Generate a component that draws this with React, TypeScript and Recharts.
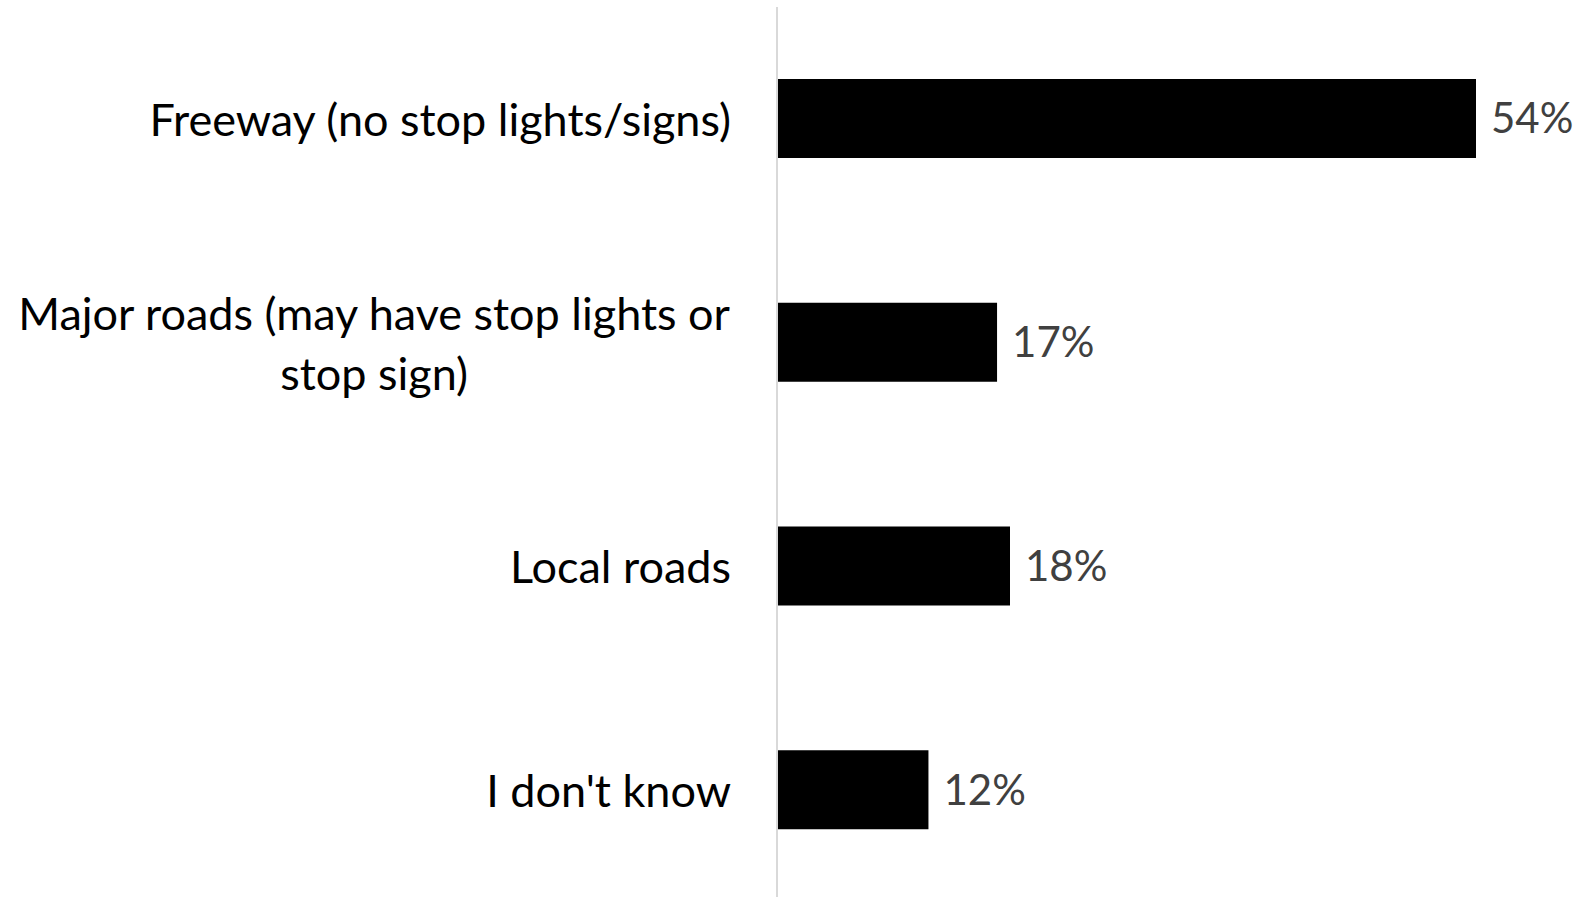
import { BarChart, Bar, XAxis, YAxis, LabelList } from 'recharts';

const categories = [
  'Freeway (no stop lights/signs)',
  'Major roads (may have stop lights or\nstop sign)',
  'Local roads',
  "I don't know",
];
const shares = [54, 17, 18, 11.7];

const FONT = 'Lato, "Open Sans", sans-serif';
const CAT_SIZE = 45;

const chartData = categories.map((name, i) => ({ name, value: shares[i] }));

const CategoryTick = ({ x, y, payload }: { x?: number; y?: number; payload?: { value: string } }) => {
  const lines = String(payload?.value ?? '').split('\n');
  if (lines.length === 1) {
    return (
      <text x={x} y={y} textAnchor="end" dominantBaseline="central" fill="#000" fontSize={CAT_SIZE} fontFamily={FONT}>
        {lines[0]}
      </text>
    );
  }
  // multi-line labels: block right-aligned, lines centred on each other
  const canvas = document.createElement('canvas');
  const ctx = canvas.getContext('2d');
  let widest = 0;
  if (ctx) {
    ctx.font = `${CAT_SIZE}px ${FONT}`;
    lines.forEach(l => { widest = Math.max(widest, ctx.measureText(l).width); });
  }
  const cx = (x ?? 0) - widest / 2;
  const lineH = 60;
  const top = (y ?? 0) - ((lines.length - 1) * lineH) / 2;
  return (
    <text textAnchor="middle" fill="#000" fontSize={CAT_SIZE} fontFamily={FONT}>
      {lines.map((l, i) => (
        <tspan key={i} x={cx} y={top + i * lineH} dominantBaseline="central">
          {l}
        </tspan>
      ))}
    </text>
  );
};

export default function App() {
  return (
    <div style={{ position: 'absolute', left: 0, top: 0 }}>
      <BarChart
        width={1582}
        height={902}
        data={chartData}
        layout="vertical"
        margin={{ top: 7, right: 106, bottom: 0, left: 0 }}
      >
        <XAxis type="number" domain={[0, 54]} hide />
        <YAxis
          type="category"
          dataKey="name"
          width={777}
          tick={<CategoryTick />}
          tickLine={false}
          tickSize={0}
          tickMargin={46}
          axisLine={{ stroke: '#d9d9d9', strokeWidth: 2 }}
          interval={0}
        />
        <Bar dataKey="value" fill="#000" barSize={79} isAnimationActive={false}>
          <LabelList
            dataKey="value"
            position="right"
            offset={15}
            formatter={(v: number) => `${Math.round(v)}%`}
            fill="#404040"
            fontSize={42}
            fontFamily={FONT}
          />
        </Bar>
      </BarChart>
    </div>
  );
}
